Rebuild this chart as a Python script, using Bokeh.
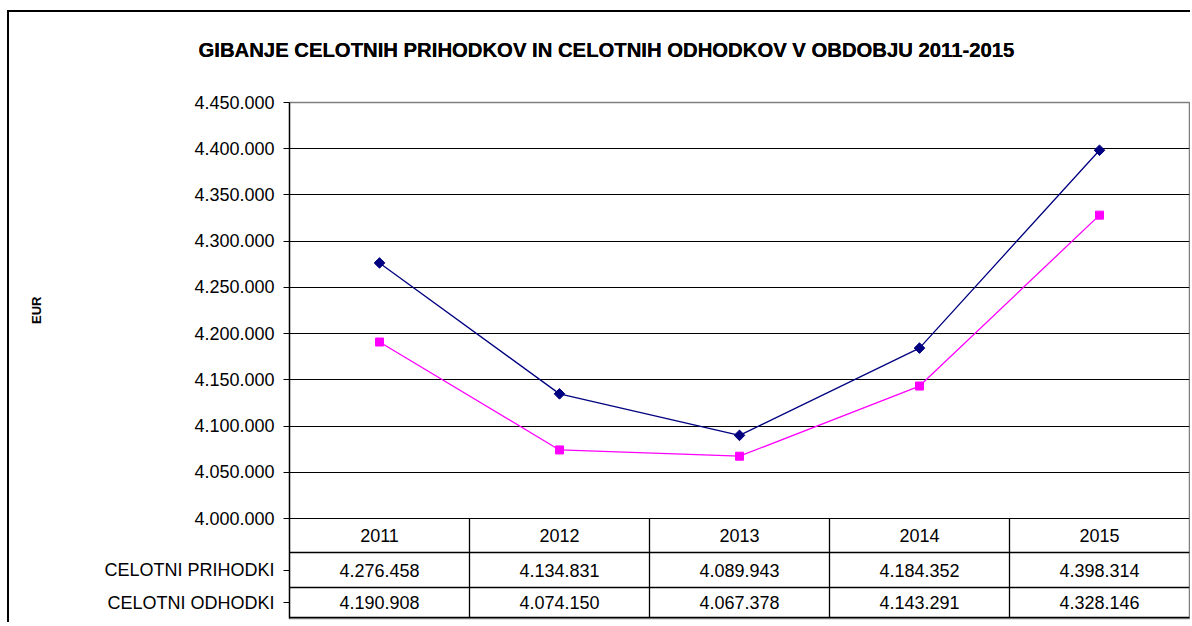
import math
from bokeh.plotting import figure
from bokeh.models import Range1d, FactorRange, FixedTicker, Title
from bokeh.embed import file_html
from bokeh.resources import INLINE
from bokeh.core.properties import value

# ---------------- data ----------------
years = ["2011", "2012", "2013", "2014", "2015"]
prihodki = [4276458, 4134831, 4089943, 4184352, 4398314]
odhodki = [4190908, 4074150, 4067378, 4143291, 4328146]
series_names = ["CELOTNI PRIHODKI", "CELOTNI ODHODKI"]
y_ticks = [4000000, 4050000, 4100000, 4150000, 4200000,
           4250000, 4300000, 4350000, 4400000, 4450000]
y_tick_labels = ["4.000.000", "4.050.000", "4.100.000", "4.150.000", "4.200.000",
                 "4.250.000", "4.300.000", "4.350.000", "4.400.000", "4.450.000"]
title_text = "GIBANJE CELOTNIH PRIHODKOV IN CELOTNIH ODHODKOV V OBDOBJU 2011-2015"
y_label = "EUR"

# ---------------- style / layout (page pixels) ----------------
FONT = "Liberation Sans"
C1 = "#000080"
C2 = "#FF00FF"
ORIG_X, ORIG_Y = 9, 12          # canvas origin on the page (margin + border)
FRAME_L, FRAME_R = 289, 1189
FRAME_T, AXIS_B, FRAME_B = 102, 518, 618
ROW1_T, ROW2_T, ROW2_B = 552, 587, 617
W = 1183
H = 612
n = len(years)

units_per_px = (y_ticks[-1] - y_ticks[0]) / (AXIS_B - FRAME_T)
y_start = y_ticks[0] - (FRAME_B - AXIS_B) * units_per_px


def v(page_y):
    """page y -> table coordinate (pixels above frame bottom)"""
    return FRAME_B - page_y


def yval(page_y):
    """page y -> value-axis coordinate"""
    return y_ticks[0] - (page_y - AXIS_B) * units_per_px


def fmt(val):
    return f"{val:,}".replace(",", ".")


p = figure(width=W, height=H,
           x_range=FactorRange(factors=years),
           y_range=Range1d(y_start, y_ticks[-1]),
           x_axis_location=None,
           output_backend="svg", toolbar_location=None,
           min_border_left=FRAME_L - ORIG_X, min_border_right=ORIG_X + W - FRAME_R,
           min_border_top=FRAME_T - ORIG_Y, min_border_bottom=ORIG_Y + H - FRAME_B,
           margin=(10, 0, 0, 7),
           styles={"border-left": "2px solid black", "border-top": "2px solid black"},
           title=title_text)
p.extra_y_ranges = {"tbl": Range1d(0, FRAME_B - FRAME_T)}

main_title = p.title
main_title.align = "left"
main_title.offset = 198 - FRAME_L
main_title.vertical_align = "bottom"
main_title.standoff = 12
main_title.text_font = FONT
main_title.text_font_size = "20.3px"
main_title.text_font_style = "bold"
main_title.text_color = "black"
# invisible spacer panel that sets the title's vertical position
spacer = Title(text=".", text_font_size="10px", text_alpha=0, standoff=20)
p.above = [spacer, main_title]

p.outline_line_color = "#808080"
p.outline_line_width = 1.5
p.xgrid.visible = False
p.ygrid.grid_line_color = "black"
p.ygrid.grid_line_width = 1
p.ygrid.ticker = FixedTicker(ticks=y_ticks)

# value ticks + the two row headers of the data table on the same axis
row_vals = [yval((ROW1_T + ROW2_T) / 2), yval((ROW2_T + ROW2_B) / 2)]
ax = p.yaxis[0]
ax.ticker = FixedTicker(ticks=y_ticks + row_vals)
overrides = {t: l for t, l in zip(y_ticks, y_tick_labels)}
overrides.update({t: l for t, l in zip(row_vals, series_names)})
ax.major_label_overrides = overrides
ax.major_tick_out = 6
ax.major_tick_in = 0
ax.minor_tick_out = 0
ax.minor_tick_in = 0
ax.major_tick_line_color = "black"
ax.axis_line_color = "black"
ax.axis_line_width = 1.3
ax.major_label_standoff = 9
ax.major_label_text_font = FONT
ax.major_label_text_font_size = "18px"
ax.major_label_text_color = "black"
ax.axis_label = " "                      # spacer so the EUR title sits far left
ax.axis_label_text_font_size = "13px"
ax.axis_label_standoff = 40

# axis title "EUR", centred on the value area (4.000.000 - 4.450.000)
eur = Title(text=y_label, align="left",
            offset=(FRAME_B - (FRAME_T + AXIS_B) / 2) - 13.5,
            vertical_align="bottom", standoff=0, text_font=FONT,
            text_font_size="13px", text_font_style="bold", text_color="black")
p.add_layout(eur, "left")

# ---------------- series ----------------
p.line(years, prihodki, line_color=C1, line_width=1.3)
p.scatter(years, prihodki, marker="square", angle=math.pi / 4, size=7.5,
          fill_color=C1, line_color=C1)
p.line(years, odhodki, line_color=C2, line_width=1.3)
p.scatter(years, odhodki, marker="square", size=8,
          fill_color=C2, line_color=C2)

# ---------------- data table ----------------
# numeric x on the categorical axis = synthetic position (factor i spans i..i+1)
grid_kw = dict(y_range_name="tbl", line_color="black", line_width=1.3)
hy = [v(ROW1_T), v(ROW2_T), v(ROW2_B)]
p.segment(x0=[0.0] * 3, y0=hy, x1=[float(n)] * 3, y1=hy, **grid_kw)
vx = [float(i) for i in range(1, n)]
p.segment(x0=vx, y0=[v(ROW2_B)] * len(vx), x1=vx, y1=[v(AXIS_B)] * len(vx), **grid_kw)

text_kw = dict(y_range_name="tbl", text_font=value(FONT), text_font_size="18px",
               text_color="black", text_baseline="middle", text_align="center")
p.text(x=years, y=[v((AXIS_B + ROW1_T) / 2)] * n, text=years, **text_kw)
p.text(x=years, y=[v((ROW1_T + ROW2_T) / 2)] * n,
       text=[fmt(x) for x in prihodki], **text_kw)
p.text(x=years, y=[v((ROW2_T + ROW2_B) / 2)] * n,
       text=[fmt(x) for x in odhodki], **text_kw)

open("out.html", "w").write(file_html(p, INLINE))
